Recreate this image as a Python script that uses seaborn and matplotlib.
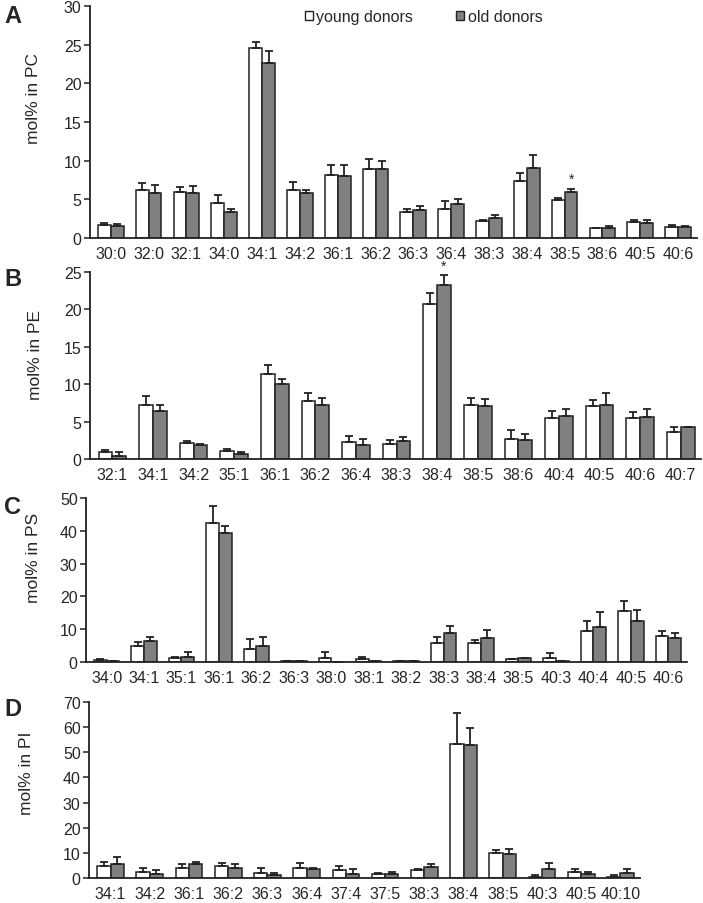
import matplotlib
matplotlib.use('Agg')
import matplotlib.pyplot as plt
import numpy as np
import pandas as pd
import seaborn as sns
from matplotlib.patches import Patch

# ---- data (mol%, mean and SD) ----
pc_cats = ['30:0', '32:0', '32:1', '34:0', '34:1', '34:2', '36:1', '36:2',
           '36:3', '36:4', '38:3', '38:4', '38:5', '38:6', '40:5', '40:6']
pc_young = [1.69, 6.18, 5.88, 4.45, 24.56, 6.18, 8.13, 8.9, 3.29, 3.76, 2.16, 7.3, 4.89, 1.21, 1.99, 1.34]
pc_young_sd = [0.17, 0.87, 0.65, 1.08, 0.82, 1.0, 1.3, 1.3, 0.47, 1.0, 0.17, 1.04, 0.3, 0.05, 0.34, 0.3]
pc_old = [1.5, 5.75, 5.75, 3.29, 22.65, 5.75, 8.0, 8.9, 3.59, 4.41, 2.5, 9.08, 5.88, 1.21, 1.86, 1.34]
pc_old_sd = [0.3, 1.08, 0.91, 0.47, 1.6, 0.43, 1.43, 1.0, 0.47, 0.65, 0.44, 1.64, 0.48, 0.3, 0.47, 0.17]

pe_cats = ['32:1', '34:1', '34:2', '35:1', '36:1', '36:2', '36:4', '38:3',
           '38:4', '38:5', '38:6', '40:4', '40:5', '40:6', '40:7']
pe_young = [0.89, 7.23, 2.1, 1.03, 11.43, 7.77, 2.23, 2.05, 20.71, 7.23, 2.72, 5.45, 7.05, 5.45, 3.57]
pe_young_sd = [0.36, 1.16, 0.31, 0.35, 1.16, 1.11, 0.88, 0.54, 1.52, 0.98, 1.16, 0.93, 0.85, 0.8, 0.67]
pe_old = [0.45, 6.43, 1.92, 0.63, 10.09, 7.23, 1.92, 2.37, 23.21, 7.05, 2.54, 5.76, 7.28, 5.58, 4.24]
pe_old_sd = [0.44, 0.8, 0.13, 0.26, 0.62, 0.98, 0.8, 0.53, 1.34, 0.99, 0.85, 0.94, 1.51, 1.16, 0.0]

ps_cats = ['34:0', '34:1', '35:1', '36:1', '36:2', '36:3', '38:0', '38:1',
           '38:2', '38:3', '38:4', '38:5', '40:3', '40:4', '40:5', '40:6']
ps_young = [0.6, 4.99, 1.22, 42.26, 3.87, 0.2, 1.22, 0.9, 0.2, 5.7, 5.7, 0.8, 1.12, 9.57, 15.58, 7.94]
ps_young_sd = [0.2, 1.22, 0.31, 5.19, 3.05, 0.0, 1.83, 0.6, 0.0, 1.94, 1.12, 0.2, 1.63, 2.96, 3.06, 1.63]
ps_old = [0.4, 6.52, 1.63, 39.2, 4.99, 0.2, 0.05, 0.3, 0.2, 8.76, 7.23, 1.1, 0.4, 10.69, 12.63, 7.23]
ps_old_sd = [0.0, 1.12, 1.53, 2.25, 2.65, 0.0, 0.0, 0.0, 0.0, 2.24, 2.65, 0.2, 0.0, 4.58, 3.26, 1.53]

pi_cats = ['34:1', '34:2', '36:1', '36:2', '36:3', '36:4', '37:4', '37:5',
           '38:3', '38:4', '38:5', '40:3', '40:5', '40:10']
pi_young = [4.89, 2.51, 3.96, 4.89, 2.11, 3.96, 3.04, 1.59, 3.04, 53.24, 9.91, 0.53, 2.51, 0.53]
pi_young_sd = [1.58, 1.32, 1.59, 0.92, 1.85, 1.98, 1.85, 0.39, 0.39, 12.55, 1.05, 0.79, 0.92, 0.79]
pi_old = [5.42, 1.59, 5.42, 3.96, 1.06, 3.57, 1.59, 1.59, 4.49, 52.84, 9.38, 3.57, 1.59, 1.98]
pi_old_sd = [2.9, 1.45, 0.92, 1.46, 0.92, 0.26, 1.84, 0.92, 0.93, 6.87, 2.11, 2.37, 0.92, 1.45]

sns.set_style('ticks')
plt.rcParams['font.family'] = ['Liberation Sans', 'DejaVu Sans']

W, H = 703, 904
fig = plt.figure(figsize=(W / 100, H / 100), dpi=100)
dark = '#222222'


def px_axes(left, top, right, bottom):
    return fig.add_axes([left / W, 1 - bottom / H, (right - left) / W, (bottom - top) / H])


def draw_panel(ax, cats, young, young_sd, old, old_sd, ymax, step, stars=()):
    n = len(cats)
    df = pd.DataFrame({'species': cats * 2,
                       'mol': young + old,
                       'donor': ['young'] * n + ['old'] * n})
    sns.barplot(data=df, x='species', y='mol', hue='donor', order=cats,
                hue_order=['young', 'old'],
                palette={'young': 'white', 'old': '#808080'},
                edgecolor=dark, linewidth=1.1, width=0.68, errorbar=None,
                legend=False, ax=ax)
    for cont, sds in zip(ax.containers, [young_sd, old_sd]):
        xs = [b.get_x() + b.get_width() / 2 for b in cont]
        hs = [b.get_height() for b in cont]
        ax.errorbar(xs, hs, yerr=[np.zeros(n), sds], fmt='none', ecolor=dark,
                    elinewidth=1.3, capsize=2.6, capthick=1.3, zorder=1)
    # significance marks sit over the old-donor bar
    for c in stars:
        i = cats.index(c)
        b = ax.containers[1][i]
        ax.text(b.get_x() + b.get_width() / 2, old[i] + old_sd[i] + ymax * 0.012, '*',
                ha='center', va='bottom', fontsize=10, color=dark, clip_on=False)
    ax.set_xlim(-0.55, n - 0.5)
    ax.set_ylim(0, ymax)
    ax.set_yticks(np.arange(0, ymax + 1, step))
    ax.set_xlabel('')
    ax.set_ylabel('')
    sns.despine(ax=ax)
    for s in ['left', 'bottom']:
        ax.spines[s].set_color(dark)
        ax.spines[s].set_linewidth(1.3)
    ax.tick_params(axis='y', length=4, width=1.1, color=dark, labelsize=11.5, pad=2)
    ax.tick_params(axis='x', length=0, labelsize=11.5, pad=6)


axA = px_axes(90, 7.3, 697, 238.7)
draw_panel(axA, pc_cats, pc_young, pc_young_sd, pc_old, pc_old_sd, 30, 5, stars=['38:5'])
axB = px_axes(90, 273, 701, 460)
draw_panel(axB, pe_cats, pe_young, pe_young_sd, pe_old, pe_old_sd, 25, 5, stars=['38:4'])
axC = px_axes(86, 499, 687, 663)
draw_panel(axC, ps_cats, ps_young, ps_young_sd, ps_old, ps_old_sd, 50, 10)
axD = px_axes(89, 703, 640, 879)
draw_panel(axD, pi_cats, pi_young, pi_young_sd, pi_old, pi_old_sd, 70, 10)

handles = [Patch(facecolor='white', edgecolor=dark, linewidth=1),
           Patch(facecolor='#808080', edgecolor=dark, linewidth=1)]
axA.legend(handles, ['young donors', 'old donors'], ncol=2, frameon=False,
           loc='center', bbox_to_anchor=(0.55, 0.955), handlelength=0.5,
           handleheight=0.5, handletextpad=0.2, columnspacing=2.7,
           fontsize=11.5, borderaxespad=0)

# y labels and panel letters, placed in pixel coordinates
for txt, x, y in [('mol% in PC', 34, 99), ('mol% in PE', 36, 355),
                  ('mol% in PS', 34, 558), ('mol% in PI', 27, 773)]:
    fig.text(x / W, 1 - y / H, txt, rotation=90, ha='center', va='center', fontsize=12.5)

for letter, y in [('A', 5), ('B', 268), ('C', 496), ('D', 698)]:
    fig.text(4 / W, 1 - y / H, letter, ha='left', va='top', fontsize=17, fontweight='bold')

fig.savefig('out.png', dpi=100)
